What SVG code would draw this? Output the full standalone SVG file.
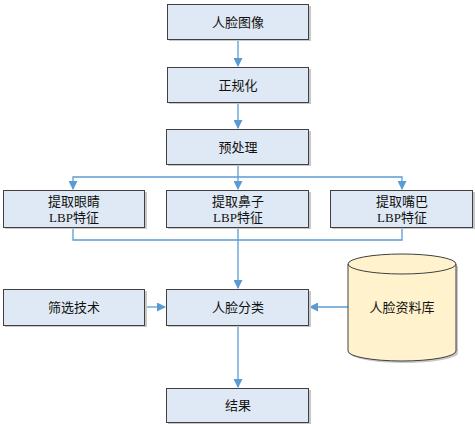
<svg xmlns="http://www.w3.org/2000/svg" width="475" height="424" viewBox="0 0 475 424">
<style>
.box{fill:#dfe9f5;stroke:#404040;stroke-width:1}
.sh{fill:#c8c8c8}
.t{font-family:"Liberation Serif","Noto Sans CJK SC",serif;font-size:13px;fill:#111111;text-anchor:middle;dominant-baseline:central}
.c{fill:none;stroke:#5b9bd5;stroke-width:1.3}
</style>
<defs>
<marker id="ah" markerWidth="9" markerHeight="9" refX="8" refY="4.5" orient="auto" markerUnits="userSpaceOnUse">
<path d="M0,0 L9,4.5 L0,9 Z" fill="#5b9bd5"/>
</marker>
</defs>
<g id="connectors">
<path class="c" d="M238,40 V66" marker-end="url(#ah)"/>
<path class="c" d="M238,102 V128" marker-end="url(#ah)"/>
<path class="c" d="M238,164 V189" marker-end="url(#ah)"/>
<path class="c" d="M238,177 H402 V189" marker-end="url(#ah)"/>
<path class="c" d="M238,177 H73 V189" marker-end="url(#ah)"/>
<path class="c" d="M73,227 V240 H402 V227"/>
<path class="c" d="M238,227 V288" marker-end="url(#ah)"/>
<path class="c" d="M145,307 H165" marker-end="url(#ah)"/>
<path class="c" d="M348,307 H310" marker-end="url(#ah)"/>
<path class="c" d="M238,325 V387" marker-end="url(#ah)"/>
</g>
<g id="n1"><rect class="sh" x="169" y="6" width="142" height="35"/><rect class="box" x="167.5" y="4.5" width="141" height="35"/><text class="t" x="238" y="22">人脸图像</text></g>
<g id="n2"><rect class="sh" x="169" y="69" width="142" height="35"/><rect class="box" x="167.5" y="67.5" width="141" height="35"/><text class="t" x="238" y="85">正规化</text></g>
<g id="n3"><rect class="sh" x="168" y="131" width="143" height="35"/><rect class="box" x="166.5" y="129.5" width="142" height="35"/><text class="t" x="238" y="147">预处理</text></g>
<g id="n4"><rect class="sh" x="5" y="192" width="142" height="37"/><rect class="box" x="3.5" y="190.5" width="141" height="37"/><text class="t" x="74" y="201">提取眼睛</text><text class="t" x="74" y="217">LBP特征</text></g>
<g id="n5"><rect class="sh" x="168" y="192" width="143" height="37"/><rect class="box" x="166.5" y="190.5" width="142" height="37"/><text class="t" x="238" y="201">提取鼻子</text><text class="t" x="238" y="217">LBP特征</text></g>
<g id="n6"><rect class="sh" x="332" y="192" width="143" height="37"/><rect class="box" x="330.5" y="190.5" width="142" height="37"/><text class="t" x="402" y="201">提取嘴巴</text><text class="t" x="402" y="217">LBP特征</text></g>
<g id="n7"><rect class="sh" x="5" y="291" width="142" height="36"/><rect class="box" x="3.5" y="289.5" width="141" height="36"/><text class="t" x="74" y="307">筛选技术</text></g>
<g id="n8"><rect class="sh" x="168" y="291" width="143" height="36"/><rect class="box" x="166.5" y="289.5" width="142" height="36"/><text class="t" x="238" y="307">人脸分类</text></g>
<g id="n9"><rect class="sh" x="168" y="390" width="143" height="34"/><rect class="box" x="166.5" y="388.5" width="142" height="34"/><text class="t" x="238" y="405">结果</text></g>
<g id="n10">
<path d="M350,266 V353 A54,10 0 0 0 458,353 V266 Z" fill="#c8c8c8"/>
<path d="M348,264 V351 A54,10 0 0 0 456,351 V264 A54,10 0 0 0 348,264 Z" fill="#fff2cc" stroke="#404040" stroke-width="1"/>
<path d="M348,264 A54,10 0 0 0 456,264" fill="none" stroke="#404040" stroke-width="1"/>
<text class="t" x="402" y="307">人脸资料库</text>
</g>
</svg>
